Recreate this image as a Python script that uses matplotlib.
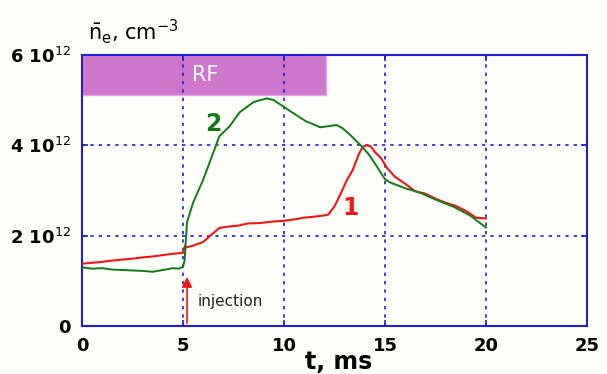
import numpy as np
import matplotlib.pyplot as plt
from matplotlib.patches import Rectangle

# density in units of 1e12 cm^-3
red_t = [0, 0.5, 1, 1.5, 2, 2.5, 3, 3.5, 4, 4.5, 5.0, 5.1, 5.15, 5.5, 6, 6.3,
         6.8, 7.2, 7.7, 8.2, 8.8, 9.4, 10, 10.5, 11, 11.5, 12, 12.2, 12.5,
         12.8, 13.1, 13.4, 13.7, 13.9, 14.1, 14.3, 14.5, 14.8, 15.1, 15.5, 16,
         16.5, 17, 17.5, 18, 18.5, 19, 19.5, 20]
red_n = [1.38, 1.40, 1.42, 1.45, 1.47, 1.49, 1.52, 1.54, 1.57, 1.60, 1.62,
         1.78, 1.74, 1.78, 1.86, 1.98, 2.17, 2.20, 2.22, 2.27, 2.28, 2.31,
         2.33, 2.36, 2.40, 2.42, 2.45, 2.47, 2.65, 2.92, 3.22, 3.45, 3.80,
         3.97, 4.00, 3.98, 3.85, 3.72, 3.50, 3.30, 3.15, 2.98, 2.93, 2.82,
         2.73, 2.66, 2.55, 2.40, 2.38]

green_t = [0, 0.5, 1, 1.5, 2, 2.5, 3, 3.5, 4, 4.5, 4.8, 5.0, 5.08, 5.12, 5.2,
           5.5, 6.0, 6.5, 6.8, 7.3, 7.8, 8.5, 9.15, 9.5, 9.8, 10.4, 11.1,
           11.8, 12.6, 12.9, 13.3, 13.8, 14.2, 14.6, 15.0, 15.25, 16, 16.7,
           17.5, 18.4, 19.2, 20]
green_n = [1.30, 1.27, 1.28, 1.25, 1.24, 1.23, 1.22, 1.20, 1.24, 1.28, 1.27,
           1.31, 1.45, 1.75, 2.30, 2.73, 3.24, 3.84, 4.20, 4.42, 4.73, 4.96,
           5.04, 5.00, 4.91, 4.73, 4.53, 4.40, 4.45, 4.38, 4.22, 4.00, 3.80,
           3.53, 3.25, 3.18, 3.05, 2.96, 2.80, 2.64, 2.45, 2.18]

x_ticks = [0, 5, 10, 15, 20, 25]
y_ticks = [0, 2, 4, 6]
y_labels = ['0', r'2 10$^{12}$', r'4 10$^{12}$', r'6 10$^{12}$']

blue = '#2020d0'

fig = plt.figure(figsize=(6.07, 3.74), dpi=100, facecolor='#fefefa')
ax = fig.add_axes([0.1351, 0.1283, 0.8319, 0.7246])
ax.set_facecolor('#fefefa')

ax.add_patch(Rectangle((0, 5.11), 12.1, 0.89, facecolor='#cc77cc',
                       edgecolor='#e0a8e0', lw=1, zorder=1))
ax.text(6.1, 5.55, 'RF', color='white', fontsize=15, ha='center',
        va='center', zorder=2)

ax.plot(red_t, red_n, color='#ee1515', lw=1.5, zorder=3)
ax.plot(green_t, green_n, color='#127a12', lw=1.4, zorder=4)

ax.annotate('', xy=(5.2, 1.15), xytext=(5.2, 0),
            arrowprops=dict(arrowstyle='-|>', color='#ee1515', lw=1.2,
                            mutation_scale=15), zorder=5)
ax.text(5.7, 0.55, 'injection', fontsize=11, color='#222222', va='center')

ax.text(6.5, 4.47, '2', color='#127a12', fontsize=17, fontweight='bold',
        ha='center', va='center')
ax.text(13.3, 2.62, '1', color='#ee1515', fontsize=17, fontweight='bold',
        ha='center', va='center')

ax.set_xlim(0, 25)
ax.set_ylim(0, 6)
ax.set_xticks(x_ticks)
ax.set_yticks(y_ticks)
ax.set_yticklabels(y_labels)
for lab in ax.get_xticklabels() + ax.get_yticklabels():
    lab.set_fontweight('bold')
    lab.set_fontsize(13)
ax.tick_params(direction='in', length=4, color=blue, width=1.2,
               top=True, right=True, pad=8)
ax.grid(True, color=blue, ls=(0, (2, 3)), lw=1.2)
for s in ax.spines.values():
    s.set_color(blue)
    s.set_linewidth(1.5)

fig.text(0.502, 0.032, 't, ms', fontsize=17, fontweight='bold', va='center')
fig.text(0.145, 0.895, r'$\bar{\mathrm{n}}_\mathrm{e}$, cm$^{-3}$',
         fontsize=15)

fig.savefig('out.png', dpi=100, facecolor=fig.get_facecolor())
